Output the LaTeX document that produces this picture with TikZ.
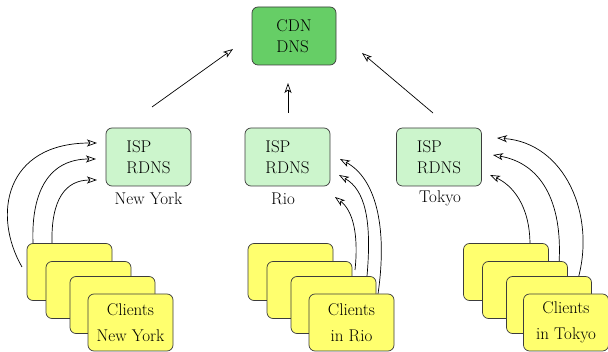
\documentclass[tikz,border=0pt]{standalone}
\usetikzlibrary{arrows.meta}
\definecolor{cdngreen}{RGB}{102,206,102}
\definecolor{ispgreen}{RGB}{204,245,204}
\definecolor{clientyellow}{RGB}{255,255,110}
\definecolor{edgegray}{RGB}{60,60,60}
\tikzset{
  box/.style={draw=edgegray, line width=0.7pt, rounded corners=6pt, minimum width=85pt, minimum height=57pt, inner sep=0pt, align=left, font=\fontsize{17}{21.5}\selectfont},
  cdnbox/.style={box, fill=cdngreen, minimum width=84pt, minimum height=58pt},
  ispbox/.style={box, fill=ispgreen, minimum height=58pt},
  clientbox/.style={box, fill=clientyellow, align=center, font=\fontsize{17}{26.5}\selectfont},
  place/.style={inner sep=0pt, font=\fontsize{17}{20}\selectfont},
  arr/.style={line width=0.7pt, -{Stealth[open, length=10pt, width=7pt, inset=2.5pt]}}
}
\begin{document}
\begin{tikzpicture}[x=1pt,y=-1pt]
\useasboundingbox (0,0) rectangle (608,352);

% top node
\node[cdnbox] (cdn) at (294,36) {CDN\\DNS};

% ISP nodes
\node[ispbox] (ispny) at (148.5,157) {ISP\\RDNS};
\node[ispbox] (isprio) at (287.5,157) {ISP\\RDNS};
\node[ispbox] (isptk) at (439,157) {ISP\\RDNS};
\node[place] (lny) at (148.5,198.5) {New York};
\node[place] (lrio) at (283,198.5) {Rio};
\node[place] (ltk) at (440,198.5) {Tokyo};

% arrows ISP -> CDN
\coordinate (nyt) at (152,107);
\coordinate (nyh) at (233,49);
\coordinate (riot) at (288,113);
\coordinate (rioh) at (288,83);
\coordinate (tkt) at (433,113);
\coordinate (tkh) at (362,53);
\draw[arr] (nyt) -- (nyh);
\draw[arr] (riot) -- (rioh);
\draw[arr] (tkt) -- (tkh);

% New York curved arrows
\coordinate (nya1) at (22,267);  \coordinate (nyb1) at (97,143);
\coordinate (nya2) at (33,243);  \coordinate (nyb2) at (96,159);
\coordinate (nya3) at (52,243);  \coordinate (nyb3) at (97,180);
\draw[arr] (nya1) .. controls (-8,215) and (5,143) .. (nyb1);
\draw[arr] (nya2) .. controls (31,190) and (50,159) .. (nyb2);
\draw[arr] (nya3) .. controls (51,200) and (65,180) .. (nyb3);

% Rio curved arrows
\coordinate (rioa1) at (355,270);  \coordinate (riob1) at (335,197);
\coordinate (rioa2) at (367,276);  \coordinate (riob2) at (339,175);
\coordinate (rioa3) at (378,294);  \coordinate (riob3) at (340,159);
\draw[arr] (rioa1) .. controls (359,232) and (352,210) .. (riob1);
\draw[arr] (rioa2) .. controls (372,220) and (365,190) .. (riob2);
\draw[arr] (rioa3) .. controls (388,225) and (375,178) .. (riob3);

% Tokyo curved arrows
\coordinate (tka1) at (530,245);  \coordinate (tkb1) at (490,175);
\coordinate (tka2) at (559,264);  \coordinate (tkb2) at (493,155);
\coordinate (tka3) at (578,279);  \coordinate (tkb3) at (497,138);
\draw[arr] (tka1) .. controls (530,205) and (512,185) .. (tkb1);
\draw[arr] (tka2) .. controls (563,200) and (540,163) .. (tkb2);
\draw[arr] (tka3) .. controls (596,215) and (565,143) .. (tkb3);

% client stacks
\node[clientbox] (ny1) at (69.5,272) {};
\node[clientbox] (ny2) at (88.5,290) {};
\node[clientbox] (ny3) at (112.5,305) {};
\node[clientbox] (ny4) at (130.5,322.5) {Clients\\New York};

\node[clientbox] (rio1) at (290.5,272) {};
\node[clientbox] (rio2) at (309.5,290) {};
\node[clientbox] (rio3) at (333.5,305) {};
\node[clientbox] (rio4) at (351.5,322.5) {Clients\\in Rio};

\node[clientbox] (tk1) at (506,272) {};
\node[clientbox] (tk2) at (525,290) {};
\node[clientbox] (tk3) at (549,305) {};
\node[clientbox] (tk4) at (566,322.5) {Clients\\in Tokyo};
\end{tikzpicture}
\end{document}
